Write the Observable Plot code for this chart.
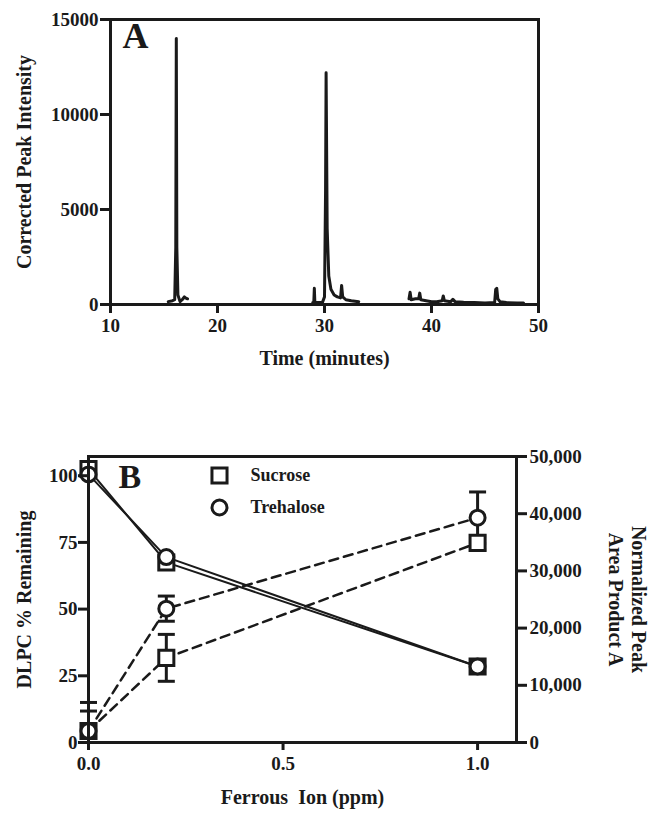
<!DOCTYPE html>
<html><head><meta charset="utf-8">
<script src="https://cdn.jsdelivr.net/npm/d3@7"></script>
<script src="https://cdn.jsdelivr.net/npm/@observablehq/plot@0.6"></script>
<style>
body{margin:0;background:#fff;}
#chart{width:649px;}
#chart svg{display:block;}
#chart svg, #chart svg text{font-family:"Liberation Serif","DejaVu Serif",serif !important;font-weight:bold;}
</style></head><body><div id="chart"></div>
<script>
// ---------- Panel A: chromatogram ----------
const timeMin = [15.4,15.8,16.0,16.1,16.15,16.2,16.3,16.5,16.7,16.9,17.0,17.2, 17.3,
  28.9,29.0,29.05,29.1,29.8,30.0,30.1,30.15,30.25,30.4,30.6,30.9,31.2,31.5,31.6,31.7,32.0,32.5,33.2, 33.3,
  37.9,38.0,38.1,38.5,38.8,38.9,39.0,39.5,40.0,40.5,41.0,41.1,41.2,41.8,42.0,42.2,43.0,44.0,45.0,45.9,46.0,46.1,46.2,46.4,47.0,48.0,48.6];
const intensity = [150,200,250,3000,14000,3000,500,150,250,400,350,300, null,
  100,100,850,100,100,400,6000,12200,4000,1500,800,500,400,350,1000,400,250,200,150, null,
  300,650,250,300,300,600,250,200,150,150,200,450,200,150,270,150,120,100,80,100,800,850,300,150,100,80,80];
const xTicksA = [10, 20, 30, 40, 50];
const yTicksA = [0, 5000, 10000, 15000];

// ---------- Panel B ----------
const ferrous = [0, 0.2, 1.0];
const seriesNames = ["Sucrose", "Trehalose"];
const dlpcSucrose = [102.5, 67.5, 28.5];
const dlpcTrehalose = [100.5, 69.5, 28.5];
const areaSucrose = [2000, 14800, 34900];
const areaSucroseErr = [3500, 4100, 1200];
const areaTrehalose = [2000, 23400, 39300];
const areaTrehaloseErr = [5000, 2200, 4500];
const xTicksB = [0, 0.5, 1.0];
const yTicksLeftB = [0, 25, 50, 75, 100];
const yTicksRightB = [0, 10000, 20000, 30000, 40000, 50000];

const FONT = "Liberation Serif, DejaVu Serif, serif";
const INK = "#1a1a1a";
const baseStyle = {fontFamily: FONT, fontWeight: "bold", fontSize: "19px", color: INK, background: "white"};
const LABEL = 20;

const chromData = timeMin.map((t, i) => ({t, v: intensity[i]}));

const plotA = Plot.plot({
  width: 649, height: 400,
  marginLeft: 110, marginRight: 111, marginTop: 19, marginBottom: 96,
  style: baseStyle,
  x: {domain: [10, 50]},
  y: {domain: [0, 15000]},
  marks: [
    Plot.line(chromData, {x: "t", y: "v", stroke: INK, strokeWidth: 3, strokeLinejoin: "round"}),
    Plot.frame({stroke: INK, strokeWidth: 3}),
    Plot.axisX({ticks: xTicksA, tickSize: 9, tickPadding: 5, strokeWidth: 3, label: null, tickFormat: d => String(d)}),
    Plot.axisY({ticks: yTicksA, tickSize: 10, tickPadding: 2, strokeWidth: 3, label: null, tickFormat: d => String(d)}),
    Plot.text(["A"], {frameAnchor: "top-left", dx: 12, dy: 17, fontSize: 36, textAnchor: "start", lineAnchor: "middle", fill: INK}),
    Plot.text(["Corrected Peak Intensity"], {frameAnchor: "left", textAnchor: "middle", lineAnchor: "middle", rotate: -90, dx: -86, fontSize: LABEL, fill: INK}),
    Plot.text(["Time (minutes)"], {frameAnchor: "bottom", textAnchor: "middle", lineAnchor: "middle", dy: 54, fontSize: LABEL, fill: INK})
  ]
});

// Panel B: right axis values mapped onto the left scale
const yTop = 107.2, rightMax = 50000, k = yTop / rightMax;
const dlpcRows = [];
const areaRows = [];
seriesNames.forEach((s, si) => {
  const dl = si === 0 ? dlpcSucrose : dlpcTrehalose;
  const ar = si === 0 ? areaSucrose : areaTrehalose;
  const er = si === 0 ? areaSucroseErr : areaTrehaloseErr;
  ferrous.forEach((x, i) => {
    dlpcRows.push({s, x, y: dl[i]});
    areaRows.push({s, x, v: ar[i], e: er[i]});
  });
});
const capRows = [];
areaRows.forEach(d => {
  capRows.push({s: d.s, x: d.x, y: (d.v + d.e) * k});
  if (d.v - d.e > 0) capRows.push({s: d.s, x: d.x, y: (d.v - d.e) * k});
});
const capSymbol = {draw(ctx, size) { const h = Math.sqrt(size / Math.PI); ctx.moveTo(-h, 0); ctx.lineTo(h, 0); }};
const symOf = s => s === "Sucrose" ? "square" : "circle";
const rOf = s => s === "Sucrose" ? 8.5 : 7.5;

const markMarks = (rows, yAcc) => seriesNames.map(s => Plot.dot(rows.filter(d => d.s === s), {
  x: "x", y: yAcc, symbol: symOf(s), r: rOf(s), fill: "white", stroke: INK, strokeWidth: 3
}));

const legendMarks = seriesNames.flatMap((s, i) => [
  Plot.dot([s], {frameAnchor: "top-left", dx: 131, dy: 19 + 32 * i, symbol: symOf(s), r: rOf(s), fill: "white", stroke: INK, strokeWidth: 3}),
  Plot.text([s], {frameAnchor: "top-left", dx: 162, dy: 19 + 32 * i, textAnchor: "start", lineAnchor: "middle", fontSize: 18, fill: INK})
]);

const plotB = Plot.plot({
  width: 649, height: 413,
  marginLeft: 88, marginRight: 133, marginTop: 56, marginBottom: 71,
  style: baseStyle,
  x: {domain: [0, 1.1]},
  y: {domain: [0, yTop]},
  marks: [
    ...seriesNames.map(s => Plot.line(dlpcRows.filter(d => d.s === s), {x: "x", y: "y", stroke: INK, strokeWidth: 2})),
    ...seriesNames.map(s => Plot.line(areaRows.filter(d => d.s === s), {x: "x", y: d => d.v * k, stroke: INK, strokeWidth: 2.5, strokeDasharray: "9,6"})),
    Plot.ruleX(areaRows, {x: "x", y1: d => Math.max(0, d.v - d.e) * k, y2: d => (d.v + d.e) * k, stroke: INK, strokeWidth: 3}),
    Plot.dot(capRows, {x: "x", y: "y", symbol: capSymbol, r: 8.5, stroke: INK, strokeWidth: 3}),
    ...markMarks(areaRows, d => d.v * k),
    ...markMarks(dlpcRows, "y"),
    Plot.frame({stroke: INK, strokeWidth: 3}),
    Plot.axisX({ticks: xTicksB, tickSize: 8, tickPadding: 6, strokeWidth: 3, label: null, tickFormat: d3.format(".1f")}),
    Plot.axisY({ticks: yTicksLeftB, tickSize: 10, tickPadding: 1, strokeWidth: 3, label: null, tickFormat: d => String(d)}),
    Plot.axisY({anchor: "right", ticks: yTicksRightB.map(v => v * k), tickSize: 10, tickPadding: 3, strokeWidth: 3, label: null,
      tickFormat: d => d3.format(",")(Math.round(d / k))}),
    ...legendMarks,
    Plot.text(["B"], {frameAnchor: "top-left", dx: 30, dy: 21, fontSize: 34, textAnchor: "start", lineAnchor: "middle", fill: INK}),
    Plot.text(["DLPC % Remaining"], {frameAnchor: "left", textAnchor: "middle", lineAnchor: "middle", rotate: -90, dx: -64, fontSize: LABEL, fill: INK}),
    Plot.text(["Normalized Peak"], {frameAnchor: "right", textAnchor: "middle", lineAnchor: "middle", rotate: 90, dx: 122, fontSize: LABEL, fill: INK}),
    Plot.text(["Area Product A"], {frameAnchor: "right", textAnchor: "middle", lineAnchor: "middle", rotate: 90, dx: 99, fontSize: LABEL, fill: INK}),
    Plot.text(["Ferrous\u00a0 Ion (ppm)"], {frameAnchor: "bottom", textAnchor: "middle", lineAnchor: "middle", dy: 55, fontSize: LABEL, fill: INK})
  ]
});

const root = document.getElementById("chart");
root.appendChild(plotA);
root.appendChild(plotB);
</script>
</body></html>
